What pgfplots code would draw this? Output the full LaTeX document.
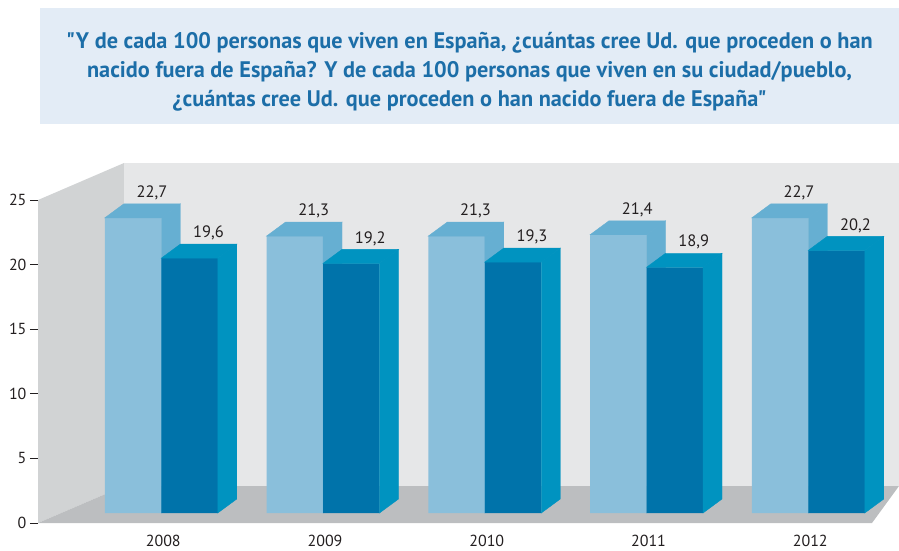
\documentclass[border=0pt]{standalone}
\usepackage{pgfplots}
\pgfplotsset{compat=1.18}
\usepackage{pgfplotstable}
\usepackage{fontspec}
\setmainfont{PT Sans}
\newfontfamily\titlefont[FakeStretch=0.99]{PT Sans}
\definecolor{boxbg}{HTML}{E3ECF6}
\definecolor{titleblue}{HTML}{1C6EA8}
\definecolor{backwall}{HTML}{E6E7E8}
\definecolor{leftwall}{HTML}{D1D3D4}
\definecolor{floorc}{HTML}{BCBEC0}
\definecolor{lightfront}{HTML}{8ABFDB}
\definecolor{lighttop}{HTML}{66AFD2}
\definecolor{darkfront}{HTML}{0073AA}
\definecolor{darkside}{HTML}{0093C0}
\definecolor{txt}{HTML}{231F20}

\pgfplotstableread{
year v
2008 22.7
2009 21.3
2010 21.3
2011 21.4
2012 22.7
}\spain
\pgfplotstableread{
year v
2008 19.6
2009 19.2
2010 19.3
2011 18.9
2012 20.2
}\town

\pgfdeclareplotmark{nothing}{}

\pgfplotsset{
  barax/.style={
    scale only axis, width=861pt, height=360pt,
    xmin=2007.238, xmax=2012.561, ymin=0, ymax=27.692,
    hide axis, clip=false,
  },
  lbl/.style={
    nodes near coords={\pgfmathprintnumber[fixed,fixed zerofill,precision=1,use comma,assume math mode=true]{\pgfplotspointmeta}},
    every node near coord/.append style={font=\fontsize{16.5}{19}\selectfont, text=txt, anchor=center, xshift=#1, yshift=25pt},
  },
}

\begin{document}
\begin{tikzpicture}[x=1pt,y=1pt]
\useasboundingbox (0,0) rectangle (899,550);
% title box
\fill[boxbg] (40,426) rectangle (899,542);
\node[align=center, text=titleblue, font=\titlefont\bfseries\fontsize{22.5}{29}\selectfont] at (469.5,478)
{"Y de cada 100 personas que viven en España, ¿cuántas cree Ud. que proceden o han\\
nacido fuera de España? Y de cada 100 personas que viven en su ciudad/pueblo,\\
¿cuántas cree Ud. que proceden o han nacido fuera de España"};

% walls, floor and y axis
\begin{axis}[
  at={(38pt,27pt)}, anchor=south west,
  scale only axis, width=861pt, height=360pt,
  xmin=38, xmax=899, ymin=0, ymax=27.864,
  clip=false,
  axis x line*=bottom, axis y line*=left,
  axis line style={draw=none},
  tick align=outside, major tick length=8pt,
  ytick={0,5,...,25},
  ytick style={draw=txt, line width=0.8pt},
  xtick={163.25,325,486.75,648.5,810.25},
  xticklabels={2008,2009,2010,2011,2012},
  xtick style={draw=none},
  ticklabel style={font=\fontsize{16}{19}\selectfont, text=txt},
  xticklabel style={anchor=center, inner sep=1pt, yshift=-10pt},
  /pgf/number format/assume math mode=true,
]
\addplot[fill=leftwall, draw=none] coordinates {(38,0) (38,25) (124,27.864) (124,2.864)} --cycle;
\addplot[fill=backwall, draw=none] coordinates {(124,2.864) (124,27.864) (899,27.864) (899,2.864)} --cycle;
\addplot[fill=floorc, draw=none] coordinates {(38,0) (124,2.864) (899,2.864) (872,0)} --cycle;
\end{axis}

% light bars
\begin{axis}[barax, at={(38pt,37pt)}, anchor=south west]
\addplot[ybar, bar width=56.5pt, bar shift=-28.25pt, fill=lightfront, draw=none, lbl=-9.25pt] table[x=year,y=v] {\spain};
\addplot[only marks, mark=nothing, scatter,
  visualization depends on={rawy \as \hv},
  scatter/@pre marker code/.code={%
    \pgfmathsetmacro\hh{\hv*13}%
    \fill[lighttop] (-56.5pt,0pt) -- (-37.5pt,14pt) -- (19pt,14pt) -- (0pt,0pt) -- cycle;
    \fill[lighttop] (0pt,0pt) -- (19pt,14pt) -- (19pt,{(14-\hh)*1pt}) -- (0pt,{-\hh*1pt}) -- cycle;
  },
  scatter/@post marker code/.code={}]
  table[x=year,y=v] {\spain};
\end{axis}

% dark bars
\begin{axis}[barax, at={(38pt,37pt)}, anchor=south west]
\addplot[ybar, bar width=56.5pt, bar shift=28.25pt, fill=darkfront, draw=none, lbl=47.25pt] table[x=year,y=v] {\town};
\addplot[only marks, mark=nothing, scatter,
  visualization depends on={rawy \as \hv},
  scatter/@pre marker code/.code={%
    \pgfmathsetmacro\hh{\hv*13}%
    \fill[darkside] (0pt,0pt) -- (19pt,14pt) -- (75.5pt,14pt) -- (56.5pt,0pt) -- cycle;
    \fill[darkside] (56.5pt,0pt) -- (75.5pt,14pt) -- (75.5pt,{(14-\hh)*1pt}) -- (56.5pt,{-\hh*1pt}) -- cycle;
  },
  scatter/@post marker code/.code={}]
  table[x=year,y=v] {\town};
\end{axis}
\end{tikzpicture}
\end{document}
